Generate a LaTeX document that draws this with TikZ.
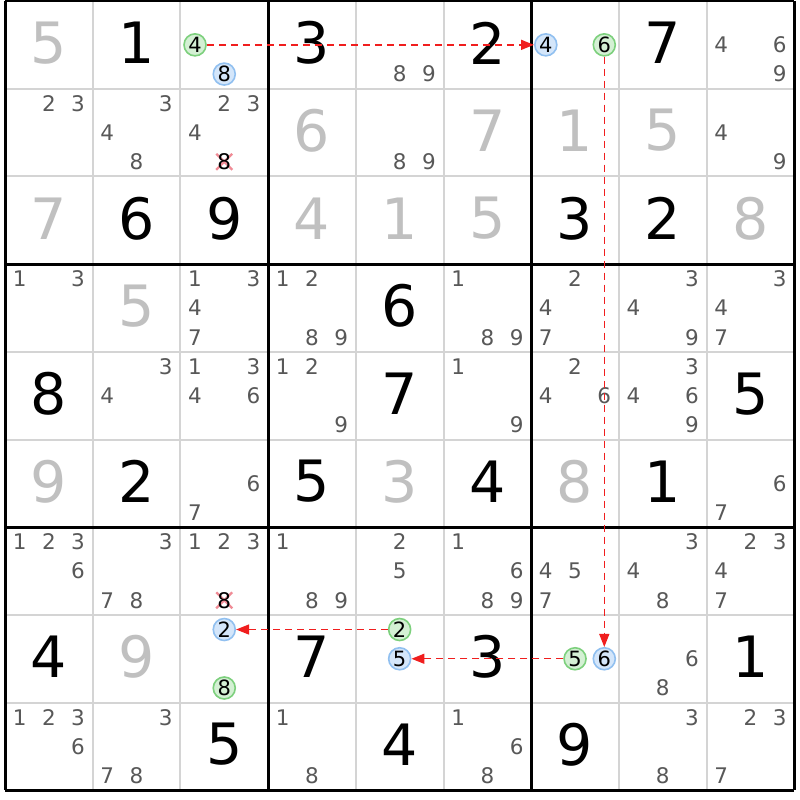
\documentclass[tikz,border=0pt]{standalone}
\usepackage{fontspec}
\setmainfont{DejaVu Sans}
\usetikzlibrary{arrows.meta}
\definecolor{candgray}{RGB}{88,88,88}
\definecolor{givgray}{RGB}{192,192,192}
\definecolor{gridgray}{RGB}{212,212,212}
\definecolor{grnfill}{RGB}{212,240,212}
\definecolor{grnline}{RGB}{125,208,125}
\definecolor{blufill}{RGB}{212,230,250}
\definecolor{bluline}{RGB}{145,192,240}
\definecolor{arrred}{RGB}{240,30,30}
\definecolor{xpink}{RGB}{240,140,150}
\def\csz{87.7}
\newcommand\givendig[4]{% r c digit color
  \pgfmathsetmacro\gvx{5+(#2-0.5)*\csz}
  \pgfmathsetmacro\gvy{1+(#1-0.5)*\csz-2}
  \node[givenstyle,text=#4] (g#1#2) at (\gvx,\gvy) {#3};}
\newcommand\cellcands[3]{% r c list
  \foreach \k in {#3}{
    \pgfmathsetmacro\cdx{5+(#2-1)*\csz+(mod(\k-1,3)+0.5)*\csz/3}
    \pgfmathsetmacro\cdy{1+(#1-1)*\csz+(floor((\k-1)/3)+0.5)*\csz/3}
    \node[candstyle] (n#1#2\k) at (\cdx,\cdy) {\k};
  }}
\newcommand\marked[4]{% r c k style
  \pgfmathsetmacro\cdx{5+(#2-1)*\csz+(mod(#3-1,3)+0.5)*\csz/3}
  \pgfmathsetmacro\cdy{1+(#1-1)*\csz+(floor((#3-1)/3)+0.5)*\csz/3}
  \node[#4] (n#1#2#3) at (\cdx,\cdy) {#3};}
\newcommand\crossed[3]{% r c k
  \pgfmathsetmacro\cdx{5+(#2-1)*\csz+(mod(#3-1,3)+0.5)*\csz/3}
  \pgfmathsetmacro\cdy{1+(#1-1)*\csz+(floor((#3-1)/3)+0.5)*\csz/3}
  \coordinate (x#1#2) at (\cdx,\cdy);
  \draw[xmark] ([shift={(-8,-8)}]x#1#2) -- ([shift={(8,8)}]x#1#2)
               ([shift={(-8,8)}]x#1#2) -- ([shift={(8,-8)}]x#1#2);
  \node[candstyle,text=black] (n#1#2#3) at (\cdx,\cdy) {#3};}
\begin{document}
\begin{tikzpicture}[x=1pt,y=-1pt,
  candstyle/.style={inner sep=0pt, text=candgray, font=\fontsize{21.5}{21.5}\selectfont},
  givenstyle/.style={inner sep=0pt, font=\fontsize{57}{57}\selectfont},
  gcirc/.style={circle, inner sep=0pt, minimum size=22pt, draw=grnline, fill=grnfill, line width=1.6pt, text=black, font=\fontsize{21}{21}\selectfont},
  bcirc/.style={circle, inner sep=0pt, minimum size=22pt, draw=bluline, fill=blufill, line width=1.6pt, text=black, font=\fontsize{21}{21}\selectfont},
  xmark/.style={draw=xpink, line width=2.2pt},
  chain/.style={draw=arrred, dash pattern=on 7pt off 5pt, line width=1.4pt, -{Triangle[length=13pt,width=10pt]}},
  thinline/.style={draw=gridgray, line width=2pt},
  thickline/.style={draw=black, line width=3pt}]
\fill[white] (0,0) rectangle (800,800);
\useasboundingbox (0,0) rectangle (800,800);
% grid
\foreach \i in {1,2,4,5,7,8}{
  \draw[thinline] (5+\i*\csz,1) -- (5+\i*\csz,1+9*\csz);
  \draw[thinline] (5,1+\i*\csz) -- (5+9*\csz,1+\i*\csz);
}
\foreach \i in {0,3,6,9}{
  \draw[thickline] (5+\i*\csz,1) -- (5+\i*\csz,1+9*\csz);
  \draw[thickline] (5,1+\i*\csz) -- (5+9*\csz,1+\i*\csz);
}
% givens
\foreach \r/\c/\d/\col in {1/1/5/givgray,1/2/1/black,1/4/3/black,1/6/2/black,1/8/7/black,
  2/4/6/givgray,2/6/7/givgray,2/7/1/givgray,2/8/5/givgray,
  3/1/7/givgray,3/2/6/black,3/3/9/black,3/4/4/givgray,3/5/1/givgray,3/6/5/givgray,3/7/3/black,3/8/2/black,3/9/8/givgray,
  4/2/5/givgray,4/5/6/black,
  5/1/8/black,5/5/7/black,5/9/5/black,
  6/1/9/givgray,6/2/2/black,6/4/5/black,6/5/3/givgray,6/6/4/black,6/7/8/givgray,6/8/1/black,
  8/1/4/black,8/2/9/givgray,8/4/7/black,8/6/3/black,8/9/1/black,
  9/3/5/black,9/5/4/black,9/7/9/black}{
  \givendig{\r}{\c}{\d}{\col}
}
% candidates
\cellcands{1}{5}{8,9}
\cellcands{1}{9}{4,6,9}
\cellcands{2}{1}{2,3}
\cellcands{2}{2}{3,4,8}
\cellcands{2}{3}{2,3,4}
\cellcands{2}{5}{8,9}
\cellcands{2}{9}{4,9}
\cellcands{4}{1}{1,3}
\cellcands{4}{3}{1,3,4,7}
\cellcands{4}{4}{1,2,8,9}
\cellcands{4}{6}{1,8,9}
\cellcands{4}{7}{2,4,7}
\cellcands{4}{8}{3,4,9}
\cellcands{4}{9}{3,4,7}
\cellcands{5}{2}{3,4}
\cellcands{5}{3}{1,3,4,6}
\cellcands{5}{4}{1,2,9}
\cellcands{5}{6}{1,9}
\cellcands{5}{7}{2,4,6}
\cellcands{5}{8}{3,4,6,9}
\cellcands{6}{3}{6,7}
\cellcands{6}{9}{6,7}
\cellcands{7}{1}{1,2,3,6}
\cellcands{7}{2}{3,7,8}
\cellcands{7}{3}{1,2,3}
\cellcands{7}{4}{1,8,9}
\cellcands{7}{5}{2,5}
\cellcands{7}{6}{1,6,8,9}
\cellcands{7}{7}{4,5,7}
\cellcands{7}{8}{3,4,8}
\cellcands{7}{9}{2,3,4,7}
\cellcands{8}{8}{6,8}
\cellcands{9}{1}{1,2,3,6}
\cellcands{9}{2}{3,7,8}
\cellcands{9}{4}{1,8}
\cellcands{9}{6}{1,6,8}
\cellcands{9}{8}{3,8}
\cellcands{9}{9}{2,3,7}
% eliminated
\crossed{2}{3}{8}
\crossed{7}{3}{8}
% chain candidates
\marked{1}{3}{4}{gcirc}
\marked{1}{3}{8}{bcirc}
\marked{1}{7}{4}{bcirc}
\marked{1}{7}{6}{gcirc}
\marked{8}{7}{5}{gcirc}
\marked{8}{7}{6}{bcirc}
\marked{8}{5}{2}{gcirc}
\marked{8}{5}{5}{bcirc}
\marked{8}{3}{2}{bcirc}
\marked{8}{3}{8}{gcirc}
% links
\draw[chain] (n134.east) -- (n174.west);
\draw[chain] (n176.south) -- (n876.north);
\draw[chain] (n875.west) -- (n855.east);
\draw[chain] (n852.west) -- (n832.east);
\end{tikzpicture}
\end{document}
